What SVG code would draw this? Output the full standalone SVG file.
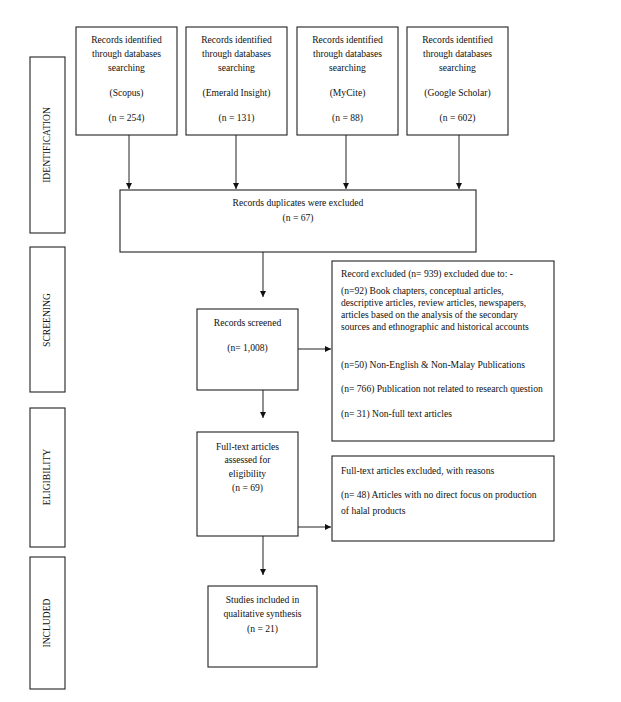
<svg xmlns="http://www.w3.org/2000/svg" width="621" height="702" viewBox="0 0 621 702">
<style>
.b{fill:#fff;stroke:#222;stroke-width:1.1}
.t{font-family:"Liberation Serif","Times New Roman",serif;font-size:9.6px;fill:#111}
.c{text-anchor:middle}
.e{stroke:#222;stroke-width:1;fill:none}
</style>
<defs>
<marker id="a" markerWidth="8" markerHeight="8" refX="6" refY="3" orient="auto" markerUnits="userSpaceOnUse">
<path d="M0,0 L6,3 L0,6 z" fill="#111"/>
</marker>
</defs>
<rect width="621" height="702" fill="#fff"/>
<g id="stage-identification"><rect class="b" x="30" y="57" width="35" height="176"/><text class="t c" transform="translate(50,145) rotate(-90)">IDENTIFICATION</text></g>
<g id="stage-screening"><rect class="b" x="30" y="247" width="35" height="145"/><text class="t c" transform="translate(50,320) rotate(-90)">SCREENING</text></g>
<g id="stage-eligibility"><rect class="b" x="30" y="408" width="35" height="139"/><text class="t c" transform="translate(50,477) rotate(-90)">ELIGIBILITY</text></g>
<g id="stage-included"><rect class="b" x="30" y="557" width="35" height="132"/><text class="t c" transform="translate(50,623) rotate(-90)">INCLUDED</text></g>
<g id="scopus"><rect class="b" x="76" y="27" width="101" height="108"/>
<text class="t c" x="126.5" y="43">Records identified</text><text class="t c" x="126.5" y="57">through databases</text><text class="t c" x="126.5" y="71">searching</text><text class="t c" x="126.5" y="96">(Scopus)</text><text class="t c" x="126.5" y="121">(n = 254)</text></g>
<g id="emerald"><rect class="b" x="186" y="27" width="101" height="108"/>
<text class="t c" x="236.5" y="43">Records identified</text><text class="t c" x="236.5" y="57">through databases</text><text class="t c" x="236.5" y="71">searching</text><text class="t c" x="236.5" y="96">(Emerald Insight)</text><text class="t c" x="236.5" y="121">(n = 131)</text></g>
<g id="mycite"><rect class="b" x="297" y="27" width="101" height="108"/>
<text class="t c" x="347.5" y="43">Records identified</text><text class="t c" x="347.5" y="57">through databases</text><text class="t c" x="347.5" y="71">searching</text><text class="t c" x="347.5" y="96">(MyCite)</text><text class="t c" x="347.5" y="121">(n = 88)</text></g>
<g id="google"><rect class="b" x="407" y="27" width="101" height="108"/>
<text class="t c" x="457.5" y="43">Records identified</text><text class="t c" x="457.5" y="57">through databases</text><text class="t c" x="457.5" y="71">searching</text><text class="t c" x="457.5" y="96">(Google Scholar)</text><text class="t c" x="457.5" y="121">(n = 602)</text></g>
<g id="duplicates"><rect class="b" x="120" y="190" width="356" height="62"/>
<text class="t c" x="298" y="206">Records duplicates were excluded</text><text class="t c" x="298" y="221">(n = 67)</text></g>
<g id="screened"><rect class="b" x="197" y="309" width="101" height="81"/>
<text class="t c" x="247.5" y="326">Records screened</text><text class="t c" x="247.5" y="351">(n= 1,008)</text></g>
<g id="excluded"><rect class="b" x="332" y="261" width="222" height="180"/>
<text class="t" x="341" y="277">Record excluded (n= 939) excluded due to: -</text>
<text class="t" x="341" y="294">(n=92) Book chapters, conceptual articles,</text>
<text class="t" x="341" y="306">descriptive articles, review articles, newspapers,</text>
<text class="t" x="341" y="318">articles based on the analysis of the secondary</text>
<text class="t" x="341" y="330">sources and ethnographic and historical accounts</text>
<text class="t" x="341" y="368">(n=50) Non-English &amp; Non-Malay Publications</text>
<text class="t" x="341" y="392">(n= 766) Publication not related to research question</text>
<text class="t" x="341" y="417">(n= 31) Non-full text articles</text></g>
<g id="eligibility"><rect class="b" x="197" y="432" width="101" height="104"/>
<text class="t c" x="247.5" y="450">Full-text articles</text><text class="t c" x="247.5" y="463">assessed for</text><text class="t c" x="247.5" y="477">eligibility</text><text class="t c" x="247.5" y="491">(n = 69)</text></g>
<g id="fulltext-excluded"><rect class="b" x="332" y="456" width="222" height="85"/>
<text class="t" x="341" y="474">Full-text articles excluded, with reasons</text>
<text class="t" x="341" y="498">(n= 48) Articles with no direct focus on production</text>
<text class="t" x="341" y="514">of halal products</text></g>
<g id="included"><rect class="b" x="208" y="586" width="109" height="81"/>
<text class="t c" x="262.5" y="603">Studies included in</text><text class="t c" x="262.5" y="617">qualitative synthesis</text><text class="t c" x="262.5" y="632">(n = 21)</text></g>
<g id="connectors">
<line class="e" x1="129" y1="135" x2="129" y2="189" marker-end="url(#a)"/>
<line class="e" x1="236" y1="135" x2="236" y2="189" marker-end="url(#a)"/>
<line class="e" x1="346" y1="135" x2="346" y2="189" marker-end="url(#a)"/>
<line class="e" x1="459" y1="135" x2="459" y2="189" marker-end="url(#a)"/>
<line class="e" x1="263" y1="252" x2="263" y2="297" marker-end="url(#a)"/>
<line class="e" x1="298" y1="349" x2="331" y2="349" marker-end="url(#a)"/>
<line class="e" x1="263" y1="390" x2="263" y2="418" marker-end="url(#a)"/>
<line class="e" x1="298" y1="527" x2="331" y2="527" marker-end="url(#a)"/>
<line class="e" x1="263" y1="536" x2="263" y2="575" marker-end="url(#a)"/>
</g>
</svg>
